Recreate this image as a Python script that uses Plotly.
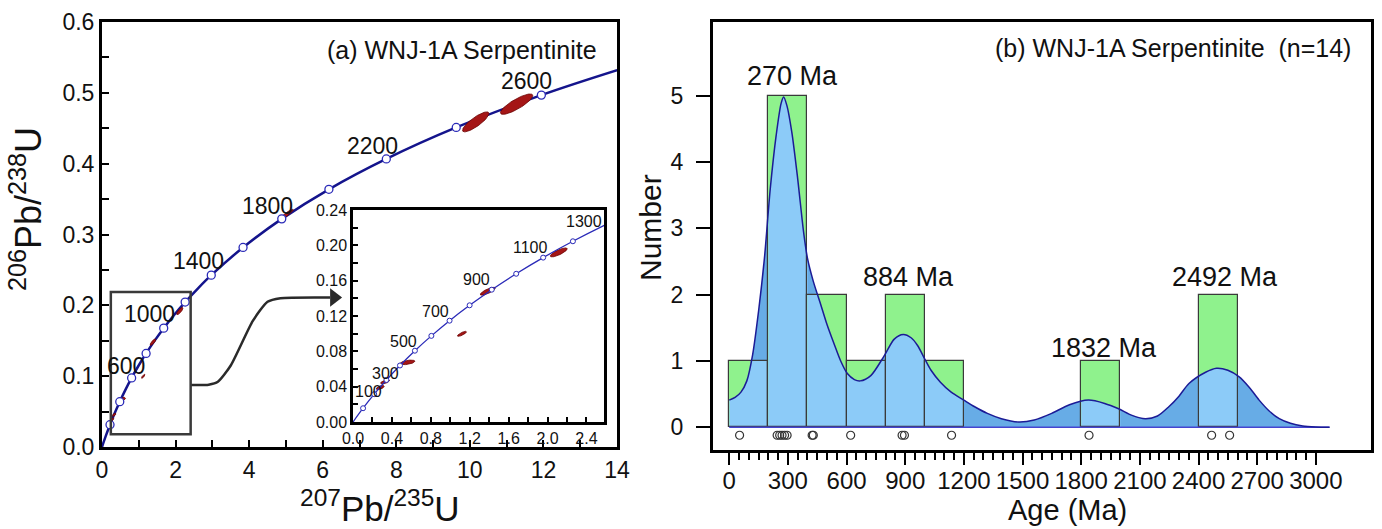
import numpy as np
import plotly.graph_objects as go

W, H = 1382, 529
FONT = "Liberation Sans, Arial, sans-serif"

# ---------------- data : panel (a) concordia ----------------
conc_age = [0, 100, 200, 300, 400, 500, 600, 700, 800, 900, 1000, 1100, 1200, 1300,
            1400, 1600, 1800, 2000, 2200, 2400, 2600, 2750]
conc_x = [0, 0.1035, 0.2177, 0.3437, 0.4828, 0.6363, 0.8056, 0.9925, 1.1987, 1.4263,
          1.6774, 1.9545, 2.2603, 2.5977, 2.9701, 3.8344, 4.8869, 6.1685, 7.7292,
          9.6296, 11.9437, 14.0044]
conc_y = [0, 0.0156, 0.0315, 0.0476, 0.0640, 0.0807, 0.0975, 0.1147, 0.1321, 0.1498,
          0.1678, 0.1861, 0.2046, 0.2234, 0.2426, 0.2817, 0.3221, 0.3638, 0.4067,
          0.4511, 0.4968, 0.5320]

main_lab_age = [600, 1000, 1400, 1800, 2200, 2600]
main_lab_x = [0.65, 1.28, 2.61, 4.51, 7.34, 11.55]
main_lab_y = [0.114, 0.188, 0.263, 0.340, 0.425, 0.517]

inset_lab_age = [100, 300, 500, 700, 900, 1100, 1300]
inset_lab_x = [0.164, 0.329, 0.524, 0.851, 1.274, 1.827, 2.374]
inset_lab_y = [0.0343, 0.0544, 0.091, 0.1246, 0.161, 0.197, 0.2268]

# analyses (error ellipses): centre, half-extents, correlation
ell_x = [0.28, 0.33, 0.56, 1.12, 1.385, 2.115, 5.01, 10.16, 11.27]
ell_y = [0.039, 0.0455, 0.0675, 0.0998, 0.148, 0.192, 0.328, 0.459, 0.484]
ell_sx = [0.041, 0.046, 0.077, 0.046, 0.077, 0.087, 0.19, 0.36, 0.44]
ell_sy = [0.0023, 0.0023, 0.0026, 0.0028, 0.0045, 0.0051, 0.0075, 0.0141, 0.0144]
ell_rho = [0.6, 0.6, 0.5, 0.8, 0.8, 0.8, 0.93, 0.84, 0.84]

# connector arrow (zoom box -> inset)
conn_x = [2.41, 2.9, 3.15, 3.5, 4.1, 4.5, 4.85, 6.2]
conn_y = [0.0876, 0.088, 0.092, 0.115, 0.178, 0.205, 0.210, 0.211]
zoom_box = [0.24, 2.41, 0.018, 0.219]

# ---------------- data : panel (b) histogram / KDE ----------------
ages = [53, 245, 258, 270, 283, 296, 424, 430, 621, 884, 896, 1137, 1840, 2467, 2559]
bin_start, bin_end, bin_size = 0, 2600, 200

kde_age = [0, 30, 60, 90, 120, 150, 180, 210, 240, 265, 278, 295, 320, 350, 380, 400,
           430, 467, 500, 536, 570, 604, 640, 670, 724, 793, 844, 890, 930, 964, 1000,
           1032, 1080, 1135, 1200, 1255, 1320, 1392, 1480, 1560, 1649, 1740, 1837, 1920,
           1991, 2060, 2128, 2190, 2248, 2300, 2351, 2436, 2492, 2550, 2608, 2660, 2710,
           2760, 2813, 2870, 2933, 3000, 3070]
kde_val = [0.41, 0.45, 0.53, 0.70, 1.10, 1.75, 2.55, 3.60, 4.40, 4.88, 4.98, 4.85, 4.45,
           3.75, 2.95, 2.55, 2.20, 1.86, 1.55, 1.26, 1.00, 0.81, 0.72, 0.70, 0.78, 1.08,
           1.33, 1.40, 1.35, 1.23, 1.03, 0.86, 0.68, 0.53, 0.41, 0.31, 0.21, 0.13, 0.08,
           0.11, 0.21, 0.34, 0.41, 0.36, 0.28, 0.18, 0.13, 0.17, 0.31, 0.47, 0.66, 0.83,
           0.89, 0.86, 0.76, 0.60, 0.41, 0.25, 0.13, 0.06, 0.02, 0.005, 0.0]

peak_text = ["270 Ma", "884 Ma", "1832 Ma", "2492 Ma"]
peak_lab_x = [322, 919, 1914, 2537]
peak_lab_y = [5.29, 2.27, 1.19, 2.27]

# ---------------- layout geometry (pixels) ----------------
A_PX = (102, 617, 22, 447)       # main concordia box  (x0, x1, ytop, ybottom)
I_PX = (353, 604, 210, 422)      # inset box
B_PX = (713, 1371, 22, 450)      # histogram box
A_XR, A_YR = [0, 14], [0, 0.6]
I_XR, I_YR = [0, 2.58], [0, 0.24]
B_XR, B_YR = [-83, 3282], [-0.342, 6.11]


def dom(px):
    x0, x1, yt, yb = px
    return [x0 / W, x1 / W], [1 - yb / H, 1 - yt / H]


def bx_paper(a):
    return (B_PX[0] + (a - B_XR[0]) / (B_XR[1] - B_XR[0]) * (B_PX[1] - B_PX[0])) / W


def by_paper(v):
    return 1 - (B_PX[3] - (v - B_YR[0]) / (B_YR[1] - B_YR[0]) * (B_PX[3] - B_PX[2])) / H


NAVY = "#14148c"
BLUE = "#2a2ab8"
RED = "#a51616"
GREEN = "#8ff28d"
LBLUE = "#8ccbf8"
DBLUE = "#67ace6"

fig = go.Figure()

# ---- panel (a) main ----
fig.add_trace(go.Scatter(x=conc_x, y=conc_y, mode="lines", xaxis="x", yaxis="y",
                         line=dict(color=NAVY, width=2.5, shape="spline"), hoverinfo="skip"))
fig.add_trace(go.Scatter(x=conn_x, y=conn_y, mode="lines", xaxis="x", yaxis="y",
                         line=dict(color="#2a2a2a", width=2.5, shape="spline", smoothing=0.6),
                         hoverinfo="skip"))
fig.add_trace(go.Scatter(x=[6.31], y=[conn_y[-1]], mode="markers", xaxis="x", yaxis="y",
                         marker=dict(symbol="triangle-right", size=16, color="#2a2a2a"),
                         hoverinfo="skip"))

t = np.linspace(0, 2 * np.pi, 72)


def ellipse(i):
    ex = ell_x[i] + ell_sx[i] * np.cos(t)
    ey = ell_y[i] + ell_sy[i] * (ell_rho[i] * np.cos(t) + np.sqrt(1 - ell_rho[i] ** 2) * np.sin(t))
    return ex, ey


for ax_, ay_ in (("x", "y"), ("x2", "y2")):
    for i in range(len(ell_x)):
        ex, ey = ellipse(i)
        fig.add_trace(go.Scatter(x=ex, y=ey, mode="lines", fill="toself", fillcolor=RED,
                                 line=dict(color="#6a0000", width=0.8), xaxis=ax_, yaxis=ay_,
                                 hoverinfo="skip"))

mk = [i for i, a in enumerate(conc_age) if a > 0 and a <= 2600 and a % 200 == 0]
fig.add_trace(go.Scatter(x=[conc_x[i] for i in mk], y=[conc_y[i] for i in mk], mode="markers",
                         xaxis="x", yaxis="y",
                         marker=dict(symbol="circle", size=8, color="white",
                                     line=dict(color=BLUE, width=1.3)), hoverinfo="skip"))

# ---- inset ----
fig.add_trace(go.Scatter(x=conc_x, y=conc_y, mode="lines", xaxis="x2", yaxis="y2",
                         line=dict(color=BLUE, width=1.3, shape="spline"), hoverinfo="skip"))
mk2 = [i for i, a in enumerate(conc_age) if 0 < a <= 1300]
fig.add_trace(go.Scatter(x=[conc_x[i] for i in mk2], y=[conc_y[i] for i in mk2], mode="markers",
                         xaxis="x2", yaxis="y2", cliponaxis=False,
                         marker=dict(symbol="circle", size=5, color="white",
                                     line=dict(color=BLUE, width=1)), hoverinfo="skip"))

# ---- panel (b) ----
counts, edges = np.histogram(ages, bins=np.arange(bin_start, bin_end + 1, bin_size))

fig.add_trace(go.Scatter(x=kde_age, y=kde_val, mode="lines", fill="tozeroy", fillcolor=DBLUE,
                         line=dict(color="rgba(0,0,0,0)", width=0, shape="spline", smoothing=0.8),
                         xaxis="x3", yaxis="y3", hoverinfo="skip"))
fig.add_trace(go.Histogram(x=ages, xbins=dict(start=bin_start, end=bin_end, size=bin_size),
                           marker=dict(color=GREEN, line=dict(width=0)),
                           xaxis="x4", yaxis="y4", hoverinfo="skip"))

clip_ids = []
k = 5
for c, lo, hi in zip(counts, edges[:-1], edges[1:]):
    if c == 0:
        continue
    fig.add_trace(go.Scatter(x=kde_age, y=kde_val, mode="lines", fill="tozeroy", fillcolor=LBLUE,
                             line=dict(color="rgba(0,0,0,0)", width=0, shape="spline", smoothing=0.8),
                             xaxis=f"x{k}", yaxis=f"y{k}", hoverinfo="skip"))
    clip_ids.append((k, lo, hi, c))
    k += 1
TOP = k

fig.add_trace(go.Histogram(x=ages, xbins=dict(start=bin_start, end=bin_end, size=bin_size),
                           marker=dict(color="rgba(0,0,0,0)", line=dict(color="#3a3a3a", width=1.2)),
                           xaxis=f"x{TOP}", yaxis=f"y{TOP}", hoverinfo="skip"))
fig.add_trace(go.Scatter(x=[kde_age[0], kde_age[-1]], y=[0, 0], mode="lines",
                         line=dict(color="#4545d0", width=1.5), xaxis=f"x{TOP}", yaxis=f"y{TOP}",
                         hoverinfo="skip"))
fig.add_trace(go.Scatter(x=kde_age, y=kde_val, mode="lines",
                         line=dict(color="#1b1b96", width=1.5, shape="spline", smoothing=0.8),
                         xaxis=f"x{TOP}", yaxis=f"y{TOP}", hoverinfo="skip"))
fig.add_trace(go.Scatter(x=ages, y=[-0.12] * len(ages), mode="markers",
                         marker=dict(symbol="circle-open", size=8, color="#333333",
                                     line=dict(width=1.2)),
                         xaxis=f"x{TOP}", yaxis=f"y{TOP}", hoverinfo="skip"))

# ---------------- axes ----------------
tf = dict(family=FONT, color="#111111")
axd = {}
adx, ady = dom(A_PX)
axd["xaxis"] = dict(domain=adx, range=A_XR, anchor="y", tickvals=list(range(0, 15, 2)),
                    ticks="inside", ticklen=7, tickwidth=2, tickcolor="black",
                    minor=dict(dtick=1, ticks="inside", ticklen=7, tickwidth=2, tickcolor="black"),
                    showline=True, linewidth=3, linecolor="black", mirror=True,
                    showgrid=False, zeroline=False, tickfont=dict(size=23, **tf),
                    ticklabelstandoff=0)
y_ticks = [round(0.1 * i, 1) for i in range(7)]
axd["yaxis"] = dict(domain=ady, range=A_YR, anchor="x", tickvals=y_ticks,
                    ticktext=[f"{v:.1f}" for v in y_ticks],
                    ticks="inside", ticklen=7, tickwidth=2, tickcolor="black",
                    minor=dict(dtick=0.05, ticks="inside", ticklen=7, tickwidth=2, tickcolor="black"),
                    showline=True, linewidth=3, linecolor="black", mirror=True,
                    showgrid=False, zeroline=False, tickfont=dict(size=23, **tf))
idx, idy = dom(I_PX)
ix_ticks = [round(0.4 * i, 1) for i in range(7)]
axd["xaxis2"] = dict(domain=idx, range=I_XR, anchor="y2", tickvals=ix_ticks,
                     ticktext=[f"{v:.1f}" for v in ix_ticks],
                     ticks="inside", ticklen=5, tickwidth=1.5, tickcolor="black",
                     minor=dict(dtick=0.2, ticks="inside", ticklen=5, tickwidth=1.5, tickcolor="black"),
                     showline=True, linewidth=2.5, linecolor="black", mirror=True,
                     showgrid=False, zeroline=False, tickfont=dict(size=16, **tf),
                     ticklabelstandoff=0)
iy_ticks = [round(0.04 * i, 2) for i in range(7)]
axd["yaxis2"] = dict(domain=idy, range=I_YR, anchor="x2", tickvals=iy_ticks,
                     ticktext=[f"{v:.2f}" for v in iy_ticks],
                     ticks="inside", ticklen=5, tickwidth=1.5, tickcolor="black",
                     minor=dict(dtick=0.02, ticks="inside", ticklen=5, tickwidth=1.5, tickcolor="black"),
                     showline=True, linewidth=2.5, linecolor="black", mirror=True,
                     showgrid=False, zeroline=False, tickfont=dict(size=16, **tf),
                     ticklabelstandoff=0)

bdx, bdy = dom(B_PX)
for n in (3, 4):
    axd[f"xaxis{n}"] = dict(domain=bdx, range=B_XR, anchor=f"y{n}", visible=False)
    axd[f"yaxis{n}"] = dict(domain=bdy, range=B_YR, anchor=f"x{n}", visible=False)
for n, lo, hi, c in clip_ids:
    axd[f"xaxis{n}"] = dict(domain=[bx_paper(lo), bx_paper(hi)], range=[lo, hi],
                            anchor=f"y{n}", visible=False)
    axd[f"yaxis{n}"] = dict(domain=[by_paper(0), by_paper(c)], range=[0, c],
                            anchor=f"x{n}", visible=False)
axd[f"xaxis{TOP}"] = dict(domain=bdx, range=B_XR, anchor=f"y{TOP}",
                          tickvals=list(range(0, 3001, 300)), ticks="outside", ticklen=12,
                          tickwidth=2, tickcolor="black",
                          minor=dict(tickvals=[v for v in range(50, 3000, 50) if v % 300],
                                     ticks="outside", ticklen=7, tickwidth=2, tickcolor="black"),
                          showline=True, linewidth=3, linecolor="black", mirror=True,
                          showgrid=False, zeroline=False, tickfont=dict(size=24, **tf),
                          ticklabelstandoff=-5)
axd[f"yaxis{TOP}"] = dict(domain=bdy, range=B_YR, anchor=f"x{TOP}",
                          tickvals=[0, 1, 2, 3, 4, 5], ticks="outside", ticklen=14,
                          tickwidth=2, tickcolor="black",
                          showline=True, linewidth=3, linecolor="black", mirror=True,
                          showgrid=False, zeroline=False, tickfont=dict(size=23, **tf),
                          ticklabelstandoff=8)
for key in axd:
    axd[key]["automargin"] = False

# ---------------- annotations ----------------
C = dict(showarrow=False, xanchor="center", yanchor="middle")
ann = []
for a, x, y in zip(main_lab_age, main_lab_x, main_lab_y):
    ann.append(dict(x=x, y=y, xref="x", yref="y", text=str(a), font=dict(size=23, **tf), **C))
for a, x, y in zip(inset_lab_age, inset_lab_x, inset_lab_y):
    ann.append(dict(x=x, y=y, xref="x2", yref="y2", text=str(a), font=dict(size=16, **tf), **C))
for s, x, y in zip(peak_text, peak_lab_x, peak_lab_y):
    ann.append(dict(x=x, y=y, xref=f"x{TOP}", yref=f"y{TOP}", text=s,
                    font=dict(size=27, **tf), **C))
ann.append(dict(x=462 / W, y=1 - 50 / H, xref="paper", yref="paper",
                text="(a) WNJ-1A Serpentinite", font=dict(size=25, **tf), **C))
ann.append(dict(x=1353 / W, y=1 - 48 / H, xref="paper", yref="paper", showarrow=False,
                xanchor="right", yanchor="middle", text="(b) WNJ-1A Serpentinite  (n=14)",
                font=dict(size=25, **tf)))
ann.append(dict(x=26 / W, y=1 - 209 / H, xref="paper", yref="paper", textangle=-90,
                text="<sup>206</sup>Pb/<sup>238</sup>U", font=dict(size=36, **tf), **C))
ann.append(dict(x=380 / W, y=1 - 506 / H, xref="paper", yref="paper",
                text="<sup>207</sup>Pb/<sup>235</sup>U", font=dict(size=35, **tf), **C))
ann.append(dict(x=650 / W, y=1 - 228 / H, xref="paper", yref="paper", textangle=-90,
                text="Number", font=dict(size=30, **tf), **C))
ann.append(dict(x=1067 / W, y=1 - 510 / H, xref="paper", yref="paper",
                text="Age (Ma)", font=dict(size=29, **tf), **C))

shapes = [dict(type="rect", xref="x", yref="y", x0=zoom_box[0], x1=zoom_box[1],
               y0=zoom_box[2], y1=zoom_box[3], line=dict(color="#3a3a3a", width=2.5))]

fig.update_layout(width=W, height=H, margin=dict(l=0, r=0, t=0, b=0, autoexpand=False),
                  paper_bgcolor="white", plot_bgcolor="rgba(0,0,0,0)",
                  showlegend=False, bargap=0, annotations=ann, shapes=shapes,
                  font=dict(family=FONT), **axd)

fig.write_html("out.html", config={"displayModeBar": False},
               post_script="document.body.style.margin='0';")
